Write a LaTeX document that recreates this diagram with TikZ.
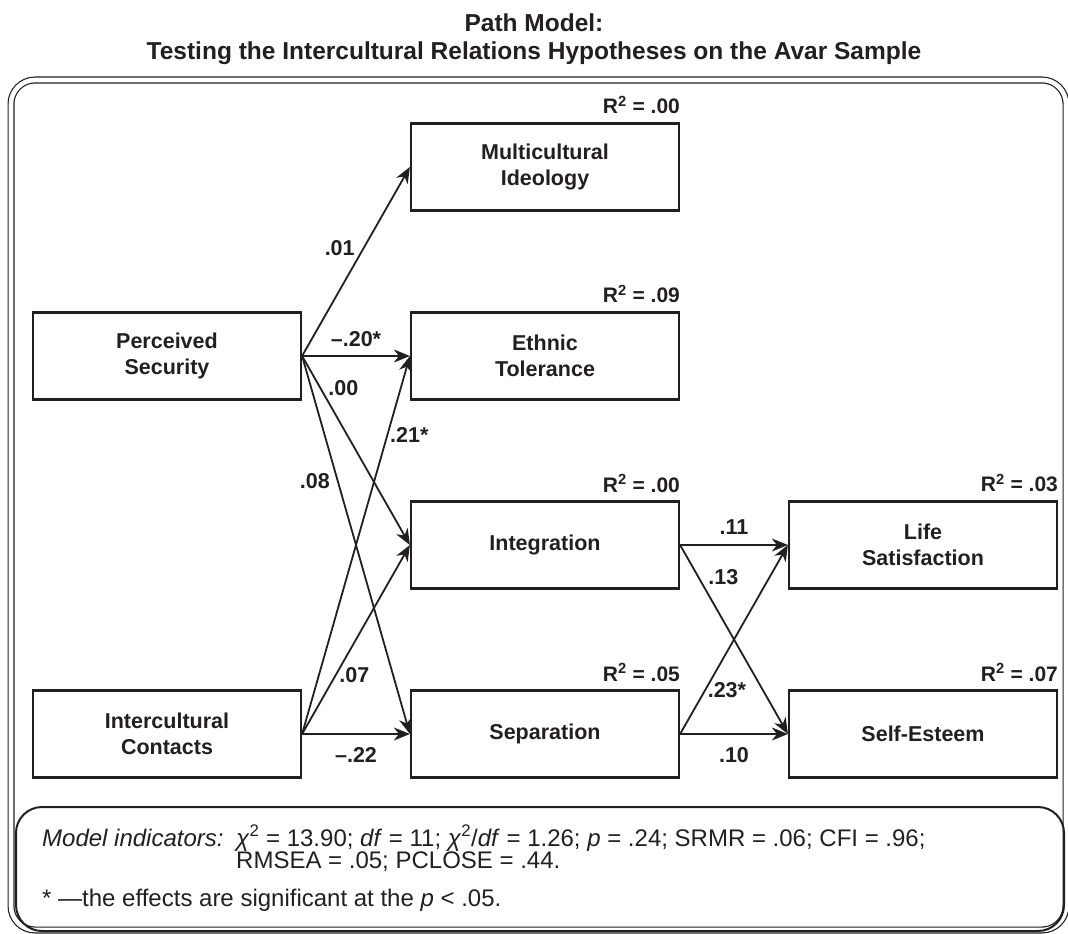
\documentclass[tikz,border=0pt]{standalone}
\usepackage{fontspec}
\setmainfont{Liberation Sans}
\usetikzlibrary{arrows.meta}
\definecolor{ink}{RGB}{35,31,32}

\begin{document}
\begin{tikzpicture}[x=1pt,y=-1pt,
    every node/.style={text=ink},
    var/.style={draw=ink,line width=2.2pt,minimum width=268pt,minimum height=87pt,align=center,font=\fontsize{21.5}{26}\selectfont\bfseries},
    rsq/.style={anchor=south east,inner sep=0pt,yshift=8pt,font=\fontsize{21}{24}\selectfont\bfseries},
    eff/.style={draw=ink,line width=1.8pt,-{Stealth[length=16pt,width=13pt,inset=5pt]}},
    coef/.style={inner sep=2pt,font=\fontsize{21.5}{24}\selectfont\bfseries},
    stat/.style={inner sep=0pt,anchor=base west,font=\fontsize{24}{24}\selectfont}]
    \useasboundingbox (0,0) rectangle (1068,934);
    %% Title
    \node (title) [align=center,font=\fontsize{24.5}{28}\selectfont\bfseries] at (534,39)
        {Path Model:\\Testing the Intercultural Relations Hypotheses on the Avar Sample};
    %% Frame
    \draw[ink,line width=1.2pt,double=white,double distance=4.6pt,rounded corners=24pt] (11,80) rectangle (1066,930);
    %% Variables
    \node (secur)   [var] at (167,356) {Perceived\\Security};
    \node (contact) [var] at (167,734) {Intercultural\\Contacts};
    \node (multi)   [var] at (545,167) {Multicultural\\Ideology};
    \node (ethnic)  [var] at (545,356) {Ethnic\\Tolerance};
    \node (integr)  [var] at (545,545) {Integration};
    \node (separ)   [var] at (545,734) {Separation};
    \node (lifesat) [var] at (923,545) {Life\\Satisfaction};
    \node (esteem)  [var] at (923,734) {Self-Esteem};
    %% R^2
    \node (r2multi)   [rsq] at (multi.north east)   {R\textsuperscript{2} = .00};
    \node (r2ethnic)  [rsq] at (ethnic.north east)  {R\textsuperscript{2} = .09};
    \node (r2integr)  [rsq] at (integr.north east)  {R\textsuperscript{2} = .00};
    \node (r2separ)   [rsq] at (separ.north east)   {R\textsuperscript{2} = .05};
    \node (r2lifesat) [rsq] at (lifesat.north east) {R\textsuperscript{2} = .03};
    \node (r2esteem)  [rsq] at (esteem.north east)  {R\textsuperscript{2} = .07};
    %% Security
    \draw[eff] (secur.east) -- (multi.west) node[coef,pos=0.57,anchor=east,xshift=-6pt] {.01};
    \draw[eff] (secur.east) -- (ethnic.west) node[coef,pos=0.5,anchor=south,yshift=6pt] {\textendash.20*};
    \draw[eff] (secur.east) -- (integr.west) node[coef,pos=0.17,anchor=west,xshift=5pt] {.00};
    \draw[eff] (secur.east) -- (separ.west) node[coef,pos=0.33,anchor=east,xshift=-5pt] {.08};
    %% Contacts
    \draw[eff] (contact.east) -- (ethnic.west) node[coef,pos=0.79,anchor=west] {.21*};
    \draw[eff] (contact.east) -- (integr.west) node[coef,pos=0.31,anchor=west,xshift=1pt] {.07};
    \draw[eff] (contact.east) -- (separ.west) node[coef,pos=0.5,anchor=north,yshift=-11pt] {\textendash.22};
    %% Strategies
    \draw[eff] (integr.east) -- (lifesat.west) node[coef,pos=0.5,anchor=south,yshift=8pt] {.11};
    \draw[eff] (integr.east) -- (esteem.west) node[coef,pos=0.17,anchor=west,xshift=7pt] {.13};
    \draw[eff] (separ.east) -- (lifesat.west) node[coef,pos=0.23,anchor=west] {.23*};
    \draw[eff] (separ.east) -- (esteem.west) node[coef,pos=0.5,anchor=north,yshift=-11pt] {.10};
    %% Model indicators
    \draw[ink,line width=2pt,rounded corners=26pt] (16,807) rectangle (1064,931);
    \node (mlabel) [stat] at (42,846) {\itshape Model indicators:};
    \node (mfit)   [stat] at (236,846) {\textit{χ}\textsuperscript{2} = 13.90; \textit{df} = 11; \textit{χ}\textsuperscript{2}/\textit{df} = 1.26; \textit{p} = .24; SRMR = .06; CFI = .96;};
    \node (mfit2)  [stat] at (236,868) {RMSEA = .05; PCLOSE = .44.};
    \node (mnote)  [stat] at (42,906) {* ---the effects are significant at the \textit{p} < .05.};
\end{tikzpicture}
\end{document}
